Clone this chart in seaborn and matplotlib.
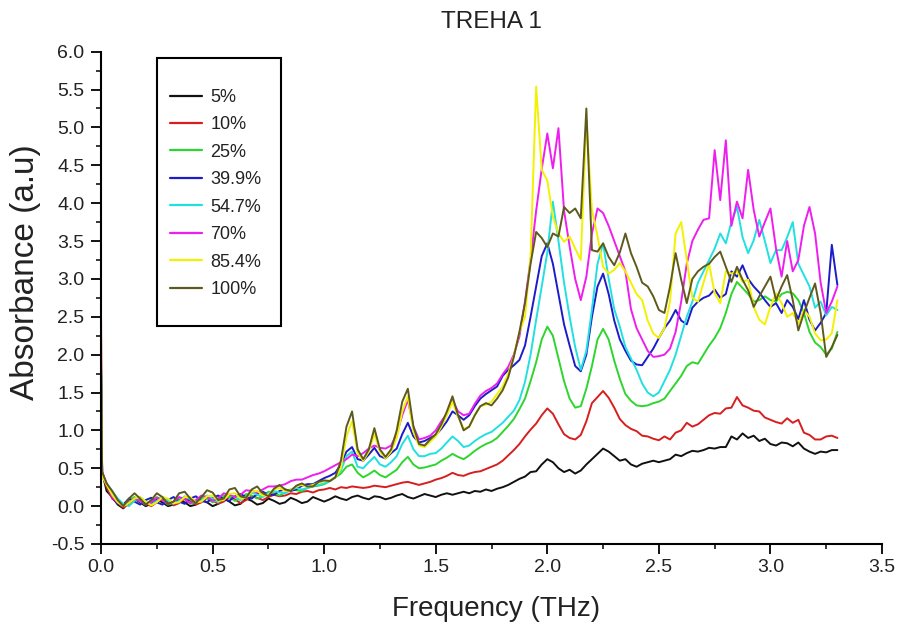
import numpy as np
import pandas as pd
import matplotlib
matplotlib.use("Agg")
import matplotlib.pyplot as plt
from matplotlib.lines import Line2D
from matplotlib.patches import Rectangle
from matplotlib.ticker import MultipleLocator, FormatStrFormatter
from matplotlib import font_manager
import seaborn as sns

# Sampling grid of the spectra (THz): the zero point, one point just after it,
# then a regular 0.025 THz step up to 3.3 THz.
freq = np.round(np.concatenate([[0.0, 0.005], np.arange(0.025, 3.3001, 0.025)]), 3)

concentrations = ["5%", "10%", "25%", "39.9%", "54.7%", "70%", "85.4%", "100%"]
line_colors = ["#111111", "#d81e1e", "#2ed52e", "#1c1cc8",
               "#22e0e0", "#ee1eee", "#f2f200", "#5e5a1e"]

abs_5 = [1.6, 0.45,
         0.20, 0.12, 0.02, -0.03, 0.06, 0.10, 0.05, 0.00, 0.03, 0.09,
         0.05, 0.00, 0.02, 0.08, 0.05, 0.00, 0.02, 0.09, 0.05, 0.00,
         0.03, 0.10, 0.06, 0.01, 0.03, 0.10, 0.07, 0.02, 0.04, 0.10,
         0.07, 0.03, 0.05, 0.11, 0.08, 0.04, 0.06, 0.12, 0.09, 0.06,
         0.09, 0.13, 0.10, 0.08, 0.12, 0.14, 0.11, 0.09, 0.13, 0.12,
         0.09, 0.11, 0.14, 0.16, 0.12, 0.10, 0.13, 0.16, 0.14, 0.12,
         0.15, 0.17, 0.15, 0.17, 0.19, 0.17, 0.20, 0.19, 0.22, 0.20,
         0.23, 0.25, 0.28, 0.32, 0.36, 0.39, 0.45, 0.46, 0.55, 0.62,
         0.58, 0.50, 0.45, 0.48, 0.43, 0.47, 0.55, 0.62, 0.69, 0.76,
         0.72, 0.66, 0.60, 0.62, 0.55, 0.52, 0.56, 0.58, 0.60, 0.58,
         0.60, 0.62, 0.68, 0.66, 0.70, 0.73, 0.72, 0.74, 0.77, 0.76,
         0.78, 0.78, 0.92, 0.88, 0.96, 0.90, 0.93, 0.86, 0.89, 0.82,
         0.80, 0.84, 0.83, 0.79, 0.84, 0.76, 0.72, 0.69, 0.72, 0.71,
         0.74, 0.74]

abs_10 = [2.5, 0.42,
          0.25, 0.10, 0.04, -0.02, 0.03, 0.08, 0.10, 0.04, 0.00, 0.05,
          0.10, 0.06, 0.01, 0.04, 0.10, 0.07, 0.02, 0.05, 0.11, 0.08,
          0.03, 0.06, 0.12, 0.09, 0.04, 0.08, 0.13, 0.11, 0.08, 0.12,
          0.15, 0.13, 0.14, 0.17, 0.16, 0.19, 0.20, 0.18, 0.21, 0.22,
          0.24, 0.22, 0.25, 0.24, 0.26, 0.25, 0.24, 0.25, 0.27, 0.26,
          0.25, 0.27, 0.29, 0.31, 0.32, 0.30, 0.28, 0.30, 0.32, 0.35,
          0.37, 0.40, 0.44, 0.41, 0.40, 0.43, 0.45, 0.46, 0.49, 0.52,
          0.55, 0.60, 0.67, 0.74, 0.82, 0.92, 1.01, 1.09, 1.20, 1.29,
          1.22, 1.08, 0.95, 0.90, 0.88, 0.94, 1.12, 1.36, 1.44, 1.52,
          1.43, 1.30, 1.15, 1.07, 1.02, 0.99, 0.93, 0.92, 0.89, 0.87,
          0.92, 0.88, 0.97, 1.00, 1.10, 1.05, 1.08, 1.14, 1.20, 1.23,
          1.22, 1.29, 1.30, 1.44, 1.33, 1.30, 1.26, 1.25, 1.17, 1.14,
          1.11, 1.09, 1.16, 1.10, 1.14, 0.97, 0.94, 0.88, 0.88, 0.92,
          0.93, 0.90]

abs_25 = [1.9, 0.40,
          0.30, 0.14, 0.06, 0.00, 0.08, 0.12, 0.06, 0.02, 0.06, 0.12,
          0.08, 0.02, 0.05, 0.11, 0.09, 0.03, 0.06, 0.12, 0.10, 0.05,
          0.08, 0.14, 0.12, 0.07, 0.10, 0.16, 0.14, 0.10, 0.13, 0.19,
          0.17, 0.14, 0.18, 0.22, 0.21, 0.20, 0.24, 0.26, 0.27, 0.29,
          0.33, 0.38, 0.43, 0.52, 0.55, 0.44, 0.38, 0.42, 0.47, 0.41,
          0.38, 0.43, 0.48, 0.58, 0.65, 0.55, 0.50, 0.51, 0.53, 0.55,
          0.60, 0.64, 0.69, 0.65, 0.62, 0.67, 0.73, 0.78, 0.82, 0.85,
          0.90, 0.98, 1.06, 1.15, 1.28, 1.42, 1.65, 1.90, 2.20, 2.37,
          2.25, 1.95, 1.65, 1.42, 1.30, 1.32, 1.55, 1.85, 2.20, 2.34,
          2.20, 1.92, 1.68, 1.48, 1.39, 1.33, 1.32, 1.33, 1.36, 1.38,
          1.42, 1.52, 1.62, 1.72, 1.85, 1.90, 1.88, 2.00, 2.12, 2.22,
          2.35, 2.55, 2.80, 2.96, 2.88, 2.80, 2.70, 2.72, 2.77, 2.72,
          2.70, 2.80, 2.83, 2.81, 2.72, 2.55, 2.30, 2.16, 2.10, 2.00,
          2.08, 2.30]

abs_399 = [1.8, 0.45,
           0.28, 0.12, 0.03, 0.02, 0.10, 0.06, 0.02, 0.08, 0.11, 0.05,
           0.02, 0.08, 0.12, 0.06, 0.03, 0.10, 0.13, 0.07, 0.05, 0.11,
           0.14, 0.09, 0.07, 0.13, 0.16, 0.12, 0.10, 0.16, 0.19, 0.15,
           0.15, 0.20, 0.22, 0.20, 0.22, 0.27, 0.29, 0.29, 0.33, 0.37,
           0.40, 0.44, 0.55, 0.72, 0.78, 0.62, 0.60, 0.68, 0.77, 0.66,
           0.63, 0.70, 0.76, 0.95, 1.10, 0.92, 0.84, 0.86, 0.90, 0.94,
           1.02, 1.12, 1.25, 1.20, 1.14, 1.20, 1.32, 1.42, 1.48, 1.53,
           1.58, 1.72, 1.80, 1.86, 1.93, 2.12, 2.50, 2.90, 3.30, 3.47,
           3.20, 2.80, 2.40, 2.12, 1.85, 1.78, 2.00, 2.50, 2.90, 3.07,
           2.80, 2.45, 2.20, 2.05, 1.92, 1.87, 1.86, 1.97, 2.08, 2.22,
           2.35, 2.45, 2.59, 2.45, 2.40, 2.62, 2.70, 2.75, 2.78, 2.86,
           2.75, 2.80, 3.10, 3.03, 3.18, 3.00, 2.90, 2.82, 2.72, 2.63,
           2.68, 2.55, 2.72, 2.63, 2.47, 2.72, 2.46, 2.32, 2.42, 2.55,
           3.45, 2.92]

abs_547 = [1.75, 0.40,
           0.30, 0.20, 0.10, 0.03, 0.00, 0.07, 0.12, 0.06, 0.02, 0.07,
           0.12, 0.07, 0.03, 0.07, 0.13, 0.09, 0.04, 0.08, 0.14, 0.10,
           0.05, 0.10, 0.15, 0.12, 0.08, 0.13, 0.18, 0.15, 0.12, 0.17,
           0.20, 0.18, 0.17, 0.21, 0.24, 0.22, 0.24, 0.27, 0.28, 0.30,
           0.33, 0.38, 0.47, 0.66, 0.72, 0.52, 0.50, 0.58, 0.65, 0.55,
           0.52, 0.58, 0.66, 0.82, 0.93, 0.75, 0.66, 0.66, 0.69, 0.70,
           0.76, 0.84, 0.92, 0.86, 0.78, 0.80, 0.86, 0.91, 0.95, 0.98,
           1.04, 1.10, 1.18, 1.26, 1.40, 1.64, 2.00, 2.46, 2.90, 3.35,
           4.02, 3.50, 2.95, 2.50, 2.10, 1.80, 2.05, 2.60, 3.20, 3.47,
           3.00, 2.60, 2.37, 2.10, 1.95, 1.80, 1.62, 1.50, 1.45, 1.50,
           1.65, 1.80, 2.00, 2.25, 2.50, 2.70, 2.95, 3.10, 3.25, 3.40,
           3.60, 3.47, 3.75, 3.95, 3.55, 3.34, 3.51, 3.78, 3.50, 3.21,
           3.38, 3.38, 3.55, 3.75, 3.20, 3.05, 2.90, 2.62, 2.70, 2.52,
           2.63, 2.59]

abs_70 = [1.6, 0.45,
          0.30, 0.12, 0.05, 0.00, 0.05, 0.10, 0.07, 0.02, 0.05, 0.11,
          0.08, 0.03, 0.06, 0.12, 0.09, 0.04, 0.08, 0.14, 0.12, 0.07,
          0.10, 0.17, 0.15, 0.12, 0.15, 0.21, 0.20, 0.18, 0.22, 0.26,
          0.26, 0.27, 0.29, 0.33, 0.35, 0.35, 0.38, 0.41, 0.43, 0.46,
          0.50, 0.54, 0.58, 0.62, 0.68, 0.66, 0.70, 0.76, 0.80, 0.77,
          0.76, 0.80, 0.95, 1.20, 1.40, 1.05, 0.88, 0.90, 0.93, 1.00,
          1.12, 1.22, 1.40, 1.25, 1.20, 1.22, 1.35, 1.46, 1.52, 1.56,
          1.62, 1.74, 1.84, 2.00, 2.24, 2.70, 3.25, 3.90, 4.45, 4.92,
          4.46, 4.99, 3.90, 3.43, 3.00, 2.72, 3.03, 3.60, 3.93, 3.87,
          3.70, 3.50, 3.30, 3.10, 2.60, 2.35, 2.20, 2.05, 1.97, 1.98,
          2.00, 2.08, 2.30, 2.70, 3.20, 3.50, 3.65, 3.78, 3.80, 4.70,
          4.04, 4.83, 3.70, 4.02, 3.80, 4.44, 3.91, 3.56, 3.75, 3.93,
          3.40, 3.03, 3.50, 3.10, 3.25, 3.70, 3.95, 3.60, 2.95, 2.55,
          2.70, 2.90]

abs_854 = [1.7, 0.40,
           0.28, 0.15, 0.05, 0.00, 0.04, 0.10, 0.12, 0.06, 0.01, 0.05,
           0.12, 0.10, 0.04, 0.05, 0.12, 0.12, 0.05, 0.06, 0.13, 0.14,
           0.07, 0.08, 0.16, 0.17, 0.10, 0.11, 0.19, 0.20, 0.14, 0.15,
           0.22, 0.24, 0.20, 0.21, 0.26, 0.28, 0.26, 0.28, 0.31, 0.33,
           0.34, 0.38, 0.50, 0.92, 1.12, 0.70, 0.60, 0.72, 0.95, 0.72,
           0.63, 0.72, 0.90, 1.25, 1.45, 0.98, 0.80, 0.78, 0.85, 0.92,
           1.05, 1.20, 1.38, 1.18, 1.02, 1.05, 1.20, 1.32, 1.34, 1.38,
           1.48, 1.58, 1.75, 1.98, 2.30, 2.50, 3.30, 5.54, 4.44, 4.30,
           3.82, 3.60, 3.49, 3.56, 3.40, 3.25, 5.10, 3.91, 3.56, 3.16,
           3.07, 3.12, 3.21, 3.10, 2.95, 2.80, 2.72, 2.45, 2.28, 2.22,
           2.35, 2.70, 3.60, 3.75, 3.25, 2.75, 2.70, 2.95, 3.20, 2.81,
           2.68, 3.10, 3.07, 3.10, 2.96, 2.99, 2.63, 2.46, 2.40, 2.63,
           2.81, 2.68, 2.50, 2.55, 2.41, 2.59, 2.50, 2.28, 2.19, 2.20,
           2.28, 2.72]

abs_100 = [1.9, 0.45,
           0.30, 0.20, 0.08, 0.00, 0.10, 0.17, 0.10, 0.02, 0.08, 0.17,
           0.12, 0.03, 0.06, 0.17, 0.19, 0.10, 0.04, 0.12, 0.21, 0.18,
           0.08, 0.10, 0.22, 0.24, 0.13, 0.11, 0.22, 0.26, 0.17, 0.13,
           0.23, 0.28, 0.22, 0.20, 0.27, 0.30, 0.26, 0.26, 0.32, 0.34,
           0.33, 0.38, 0.60, 1.05, 1.25, 0.75, 0.62, 0.75, 1.03, 0.75,
           0.65, 0.75, 1.00, 1.38, 1.55, 1.05, 0.82, 0.80, 0.88, 0.95,
           1.08, 1.25, 1.45, 1.20, 1.00, 1.05, 1.20, 1.32, 1.36, 1.33,
           1.42, 1.53, 1.70, 1.97, 2.30, 2.68, 3.20, 3.62, 3.54, 3.42,
           3.60, 3.56, 3.95, 3.87, 3.93, 3.80, 5.25, 3.38, 3.36, 3.47,
           3.29, 3.18, 3.35, 3.60, 3.34, 3.16, 2.95, 2.90, 2.77, 2.59,
           2.55, 2.90, 3.34, 2.99, 2.68, 3.00, 3.10, 3.16, 3.20, 3.29,
           3.36, 3.16, 2.96, 3.16, 2.99, 2.85, 2.63, 2.77, 2.90, 3.03,
           2.72, 2.90, 3.05, 2.72, 2.32, 2.55, 2.75, 2.94, 2.55, 1.97,
           2.10, 2.26]

spectra = [abs_5, abs_10, abs_25, abs_399, abs_547, abs_70, abs_854, abs_100]

df = pd.concat(
    [pd.DataFrame({"freq": freq, "absorbance": vals, "conc": lab})
     for lab, vals in zip(concentrations, spectra)],
    ignore_index=True,
)

sns.set_theme(style="ticks")
plt.rcParams["font.family"] = ["Liberation Sans", "DejaVu Sans"]

installed = {f.name for f in font_manager.fontManager.ttflist}
narrow_family = "Liberation Sans Narrow" if "Liberation Sans Narrow" in installed else "Liberation Sans"

fig = plt.figure(figsize=(8.98, 6.25), dpi=100)
ax = fig.add_axes([0.1125, 0.1296, 0.8697, 0.7877])

sns.lineplot(data=df, x="freq", y="absorbance", hue="conc",
             hue_order=concentrations, palette=line_colors,
             estimator=None, sort=False, linewidth=1.4, ax=ax, legend=False)

ax.set_xlim(0, 3.5)
ax.set_ylim(-0.5, 6.0)
ax.xaxis.set_major_locator(MultipleLocator(0.5))
ax.xaxis.set_minor_locator(MultipleLocator(0.25))
ax.yaxis.set_major_locator(MultipleLocator(0.5))
ax.yaxis.set_minor_locator(MultipleLocator(0.25))
ax.xaxis.set_major_formatter(FormatStrFormatter("%.1f"))
ax.yaxis.set_major_formatter(FormatStrFormatter("%.1f"))

for side in ("top", "right"):
    ax.spines[side].set_visible(False)
for side in ("left", "bottom"):
    ax.spines[side].set_linewidth(1.5)
    ax.spines[side].set_color("black")

ax.tick_params(axis="both", which="major", direction="out", length=7,
               width=1.3, color="black", labelcolor="#222222")
ax.tick_params(axis="both", which="minor", direction="out", length=3.5,
               width=1.1, color="black")
ax.tick_params(axis="y", which="major", pad=5, labelsize=14)
ax.tick_params(axis="x", which="major", pad=4, labelsize=14)
for lbl in ax.get_xticklabels():
    lbl.set_fontfamily([narrow_family, "DejaVu Sans"])

ax.set_xlabel("Frequency (THz)", fontsize=20, color="#222222")
ax.xaxis.set_label_coords(0.5055, -0.106)
ax.set_ylabel("Absorbance (a.u)", fontsize=24, color="#222222")
ax.yaxis.set_label_coords(-0.077, 0.5525)
ax.set_title("TREHA 1", fontsize=17.5, color="#222222", pad=17)

# Legend: entries without frame, and a separate taller box drawn around them
handles = [Line2D([], [], color=c, lw=1.6) for c in line_colors]
ax.legend(handles, concentrations, loc="center", bbox_to_anchor=(0.147, 0.712),
          frameon=False, fontsize=13, handlelength=1.75, handletextpad=0.5,
          labelspacing=0.58, borderpad=0.0, labelcolor="#222222")
ax.add_patch(Rectangle((0.0717, 0.443), 0.1588, 0.544, transform=ax.transAxes,
                       fill=False, edgecolor="black", linewidth=1.5, zorder=5))

fig.savefig("out.png", dpi=100)
